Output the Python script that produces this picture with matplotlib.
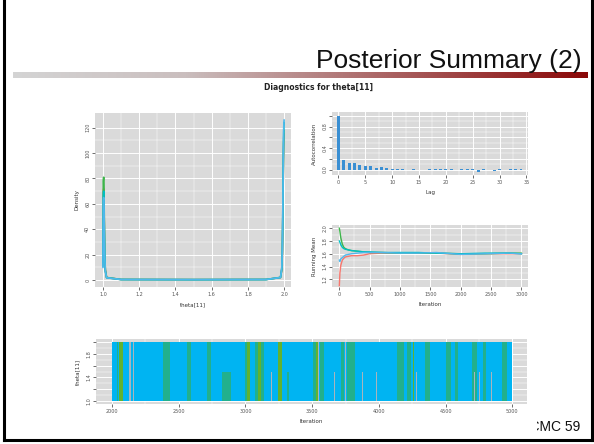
import numpy as np
import matplotlib.pyplot as plt
from matplotlib.colors import LinearSegmentedColormap
from matplotlib.lines import Line2D
from matplotlib.transforms import Bbox, TransformedBbox

# density of theta[11], one curve per chain
dens_x = [1.000, 1.002, 1.004, 1.006, 1.008, 1.010, 1.013, 1.020, 1.100, 1.500,
          1.900, 1.980, 1.987, 1.990, 1.992, 1.994, 1.996, 1.998, 2.000]
dens_chains = {
    'red':   [12, 70, 72, 58, 38, 20, 8, 2.0, 0.4, 0.3, 0.4, 2, 8, 20, 38, 62, 90, 108, 115],
    'green': [14, 78, 81, 64, 40, 21, 8, 2.0, 0.4, 0.3, 0.4, 2, 8, 20, 40, 66, 94, 112, 118],
    'cyan':  [11, 66, 70, 55, 36, 19, 7, 1.8, 0.4, 0.3, 0.4, 2, 9, 22, 42, 70, 100, 118, 124],
    'blue':  [10, 62, 65, 52, 34, 18, 7, 1.8, 0.4, 0.3, 0.4, 2, 9, 23, 44, 72, 102, 121, 126],
}

# autocorrelation by lag
lags = list(range(36))
acf = [1.0, 0.18, 0.13, 0.13, 0.08, 0.06, 0.06, 0.03, 0.04, 0.03, 0.02, 0.02,
       0.01, 0.0, 0.01, 0.0, -0.01, 0.01, 0.02, 0.02, 0.02, 0.01, 0.0, 0.01,
       0.01, 0.02, -0.04, 0.01, 0.0, -0.02, 0.01, -0.01, 0.01, 0.02, 0.01, 0.0]

# running means
rm_iter = [1, 10, 25, 50, 75, 100, 150, 200, 300, 400, 500, 700, 1000, 1300,
           1600, 2000, 2400, 2800, 3000]
rm_chains = {
    'red':   [1.10, 1.30, 1.42, 1.50, 1.53, 1.55, 1.56, 1.57, 1.57, 1.58, 1.60, 1.61,
              1.61, 1.61, 1.61, 1.59, 1.60, 1.60, 1.60],
    'green': [2.00, 1.95, 1.85, 1.75, 1.70, 1.68, 1.66, 1.65, 1.64, 1.63, 1.62, 1.62,
              1.61, 1.61, 1.61, 1.60, 1.60, 1.61, 1.61],
    'cyan':  [1.80, 1.78, 1.74, 1.70, 1.68, 1.67, 1.66, 1.65, 1.64, 1.63, 1.63, 1.62,
              1.62, 1.62, 1.61, 1.60, 1.61, 1.61, 1.60],
    'blue':  [1.50, 1.48, 1.52, 1.54, 1.56, 1.58, 1.59, 1.60, 1.61, 1.62, 1.62, 1.62,
              1.61, 1.61, 1.62, 1.59, 1.60, 1.61, 1.60],
}

# trace: iterations 2000-5000 jump between 1 and 2; stripes where other chains show
trace_start, trace_end = 2000, 5000
stripe_start = [2034, 2052, 2131, 2157, 2223, 2380, 2411, 2563, 2715, 2825, 2996, 3014,
                3074, 3093, 3119, 3160, 3192, 3245, 3310, 3506, 3530, 3545, 3559, 3664,
                3716, 3747, 3763, 3873, 3978, 4135, 4214, 4253, 4279, 4345, 4502, 4568,
                4699, 4712, 4751, 4777, 4843, 4921]
stripe_width = [11, 27, 8, 6, 5, 58, 4, 32, 26, 65, 18, 21,
                19, 26, 21, 5, 5, 26, 20, 21, 10, 5, 31, 5,
                21, 5, 58, 5, 5, 53, 26, 9, 5, 39, 39, 26,
                39, 5, 5, 26, 5, 39]
stripe_top = [2.0, 2.0, 2.0, 2.0, 1.5, 2.0, 1.5, 2.0, 2.0, 1.5, 2.0, 2.0,
              2.0, 2.0, 2.0, 1.5, 1.5, 2.0, 1.5, 2.0, 2.0, 2.0, 2.0, 1.5,
              2.0, 2.0, 2.0, 1.5, 1.5, 2.0, 2.0, 2.0, 1.5, 2.0, 2.0, 2.0,
              2.0, 1.5, 1.5, 2.0, 1.5, 2.0]
stripe_kind = ['t', 'y', 'g', 'g', 'g', 't', 'g', 't', 't', 't', 't', 'y',
               't', 'y', 't', 'g', 'g', 'y', 't', 't', 'y', 'g', 't', 'g',
               't', 'g', 't', 'g', 'g', 't', 't', 'y', 'g', 't', 't', 't',
               't', 'g', 'g', 't', 'g', 't']

chain_col = {'red': '#F8766D', 'green': '#3DB54A', 'cyan': '#00BFC4', 'blue': '#4FB8EC'}
kind_col = {'t': '#22B08C', 'y': '#62B22F', 'g': '#A9B4BC'}
PANEL = '#DADADA'

W, H = 594, 444
fig = plt.figure(figsize=(W / 100, H / 100), dpi=100)


def box(l, t, r, b):
    return [l / W, 1 - b / H, (r - l) / W, (b - t) / H]


def gg(ax, xmaj, xlabs, xmin, ymaj, ylabs, ymin, xlab, ylab):
    ax.set_facecolor(PANEL)
    for s in ax.spines.values():
        s.set_visible(False)
    ax.set_xticks(xmaj)
    ax.set_xticklabels(xlabs)
    ax.set_xticks(xmin, minor=True)
    ax.set_yticks(ymaj)
    ax.set_yticklabels(ylabs, rotation=90, va='center')
    ax.set_yticks(ymin, minor=True)
    ax.grid(which='major', color='white', lw=0.7)
    ax.grid(which='minor', color='white', lw=0.35)
    ax.set_axisbelow(True)
    ax.tick_params(which='major', length=2, width=0.6, color='#555555',
                   labelsize=3.5, labelcolor='#555555', pad=1.5)
    ax.tick_params(which='minor', length=0)
    ax.set_xlabel(xlab, fontsize=4, color='#333333', labelpad=4)
    ax.set_ylabel(ylab, fontsize=4, color='#333333', labelpad=4)


# density panel
ax1 = fig.add_axes(box(95, 113, 291, 287))
for name, vals in dens_chains.items():
    ax1.plot(dens_x, vals, color=chain_col[name], lw=1.2)
ax1.set_xlim(0.956, 2.038)
ax1.set_ylim(-5.5, 131.6)
gg(ax1, [1.0, 1.2, 1.4, 1.6, 1.8, 2.0], ['1.0', '1.2', '1.4', '1.6', '1.8', '2.0'],
   [1.1, 1.3, 1.5, 1.7, 1.9], [0, 20, 40, 60, 80, 100, 120],
   ['0', '20', '40', '60', '80', '100', '120'], [10, 30, 50, 70, 90, 110],
   'theta[11]', 'Density')

# autocorrelation panel
ax2 = fig.add_axes(box(332, 112, 528, 175))
ax2.bar(lags, acf, width=0.55, color='#3A8FD3')
ax2.set_xlim(-1.2, 35.3)
ax2.set_ylim(-0.1, 1.07)
gg(ax2, [0, 5, 10, 15, 20, 25, 30, 35], ['0', '5', '10', '15', '20', '25', '30', '35'],
   [2.5, 7.5, 12.5, 17.5, 22.5, 27.5, 32.5], [0, 0.2, 0.4, 0.6, 0.8, 1.0],
   ['0.0', '', '0.4', '', '0.8', ''], [0.1, 0.3, 0.5, 0.7, 0.9],
   'Lag', 'Autocorrelation')

# running mean panel
ax3 = fig.add_axes(box(332, 225, 528, 287))
for name, vals in rm_chains.items():
    ax3.plot(rm_iter, vals, color=chain_col[name], lw=1.0)
ax3.set_xlim(-120, 3108)
ax3.set_ylim(1.08, 2.05)
gg(ax3, [0, 500, 1000, 1500, 2000, 2500, 3000],
   ['0', '500', '1000', '1500', '2000', '2500', '3000'],
   [250, 750, 1250, 1750, 2250, 2750], [1.2, 1.4, 1.6, 1.8, 2.0],
   ['1.2', '1.4', '1.6', '1.8', '2.0'], [1.3, 1.5, 1.7, 1.9],
   'Iteration', 'Running Mean')

# trace panel
ax4 = fig.add_axes(box(96, 339, 527, 404))
ax4.bar([trace_start], [1.0], bottom=1.0, width=trace_end - trace_start,
        align='edge', color='#00B4F2', lw=0)
ax4.bar(stripe_start, np.array(stripe_top) - 1.0, bottom=1.0, width=stripe_width,
        align='edge', color=[kind_col[k] for k in stripe_kind], lw=0)
ax4.set_xlim(1880, 5110)
ax4.set_ylim(0.95, 2.05)
gg(ax4, [2000, 2500, 3000, 3500, 4000, 4500, 5000],
   ['2000', '2500', '3000', '3500', '4000', '4500', '5000'],
   [2250, 2750, 3250, 3750, 4250, 4750], [1.0, 1.2, 1.4, 1.6, 1.8, 2.0],
   ['1.0', '', '1.4', '', '1.8', ''], [1.1, 1.3, 1.5, 1.7, 1.9],
   'Iteration', 'theta[11]')

fig.text(318 / W, 1 - 88 / H, 'Diagnostics for theta[11]', ha='center', va='center',
         fontsize=5.5, weight='bold', color='#222222')

# slide decoration
fig.text(582 / W, 1 - 68 / H, 'Posterior Summary (2)', ha='right', va='baseline',
         fontsize=19, family=['Liberation Sans', 'DejaVu Sans'], color='#111111')
grad = LinearSegmentedColormap.from_list('bar', [(0, '#D4D4D4'), (0.3, '#CABEBE'),
                                                 (1, '#8A0808')])
axb = fig.add_axes(box(13, 72, 588, 78))
axb.imshow(np.linspace(0, 1, 256)[None, :], aspect='auto', cmap=grad)
axb.axis('off')

page = fig.text(580 / W, 1 - 431 / H, 'MCMC 59', ha='right', va='baseline',
                fontsize=10, family=['Liberation Sans', 'DejaVu Sans'], color='#111111')
page.set_clip_box(TransformedBbox(Bbox([[537 / W, 0], [1, 1]]), fig.transFigure))
page.set_clip_on(True)

for xs, ys in [([4 / W, 4 / W], [1 - 440 / H, 1]),
               ([592 / W, 592 / W], [1 - 440 / H, 1]),
               ([4 / W, 592 / W], [1 - 440 / H, 1 - 440 / H])]:
    fig.add_artist(Line2D(xs, ys, color='black', lw=2.2, transform=fig.transFigure))

fig.savefig('out.png', dpi=100)
